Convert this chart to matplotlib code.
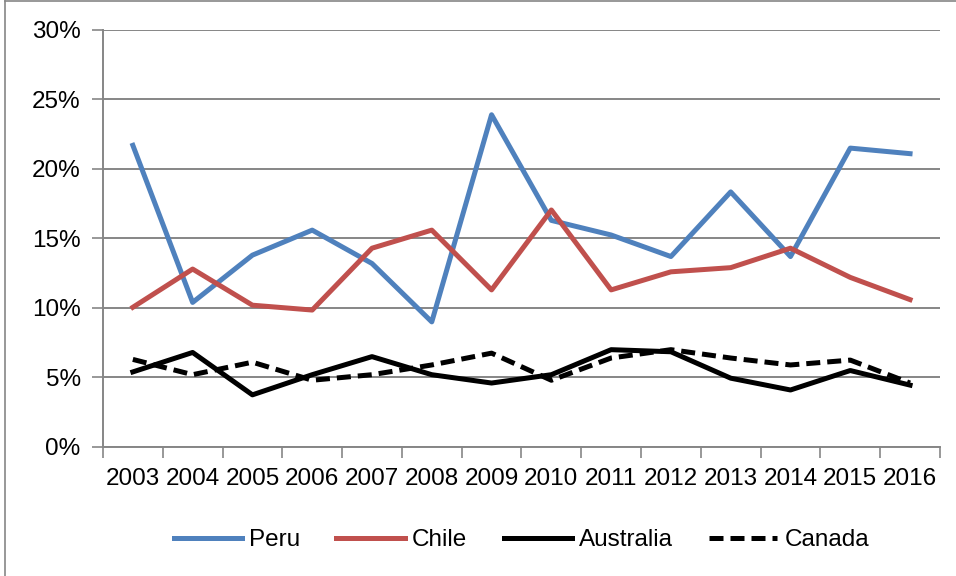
import matplotlib.pyplot as plt
from matplotlib.lines import Line2D
from matplotlib.ticker import FixedLocator, NullFormatter, FixedFormatter

plt.rcParams['font.family'] = ['Liberation Sans', 'DejaVu Sans']

years = [2003, 2004, 2005, 2006, 2007, 2008, 2009, 2010, 2011, 2012, 2013, 2014, 2015, 2016]
peru = [21.7, 10.4, 13.8, 15.6, 13.2, 9.0, 23.9, 16.3, 15.25, 13.7, 18.35, 13.7, 21.5, 21.1]
chile = [10.05, 12.8, 10.2, 9.85, 14.3, 15.6, 11.3, 17.05, 11.3, 12.6, 12.9, 14.3, 12.2, 10.6]
australia = [5.4, 6.8, 3.75, 5.2, 6.5, 5.2, 4.6, 5.2, 7.0, 6.85, 4.95, 4.1, 5.5, 4.45]
canada = [6.3, 5.2, 6.1, 4.8, 5.2, 5.9, 6.75, 4.8, 6.4, 7.0, 6.4, 5.9, 6.25, 4.6]
yticks = [0, 5, 10, 15, 20, 25, 30]

grey = '#868686'
fs = 17.5
lw = 3.6

fig = plt.figure(figsize=(9.56, 5.76), dpi=100)
ax = fig.add_axes([0.1077, 0.224, 0.8755, 0.724])

x = list(range(len(years)))
ax.plot(x, peru, color='#4f81bd', lw=lw, label='Peru')
ax.plot(x, chile, color='#c0504d', lw=lw, label='Chile')
ax.plot(x, australia, color='black', lw=lw, label='Australia')
ax.plot(x, canada, color='black', lw=lw, ls=(0, (2.8, 1.4)), label='Canada')

ax.set_xlim(-0.5, len(years) - 0.5)
ax.set_ylim(0, 30)
ax.set_yticks(yticks)
ax.set_yticklabels([f'{v}%' for v in yticks], fontsize=fs)
ax.yaxis.grid(True, color=grey, lw=1.4)
ax.set_axisbelow(True)

# boundary ticks between years, labels centred on each year
ax.xaxis.set_major_locator(FixedLocator([i - 0.5 for i in range(len(years) + 1)]))
ax.xaxis.set_major_formatter(NullFormatter())
ax.xaxis.set_minor_locator(FixedLocator(x))
ax.xaxis.set_minor_formatter(FixedFormatter([str(y) for y in years]))
ax.tick_params(axis='x', which='major', length=8, color=grey, width=1.2)
ax.tick_params(axis='x', which='minor', length=0, labelsize=fs, pad=15)
ax.tick_params(axis='y', length=8, color=grey, width=1.2, pad=8)

for s in ['top', 'right']:
    ax.spines[s].set_visible(False)
for s in ['left', 'bottom']:
    ax.spines[s].set_color(grey)
    ax.spines[s].set_linewidth(1.4)

ax.legend(loc='upper center', bbox_to_anchor=(0.5, -0.145), ncol=4, frameon=False,
          fontsize=fs, handlelength=2.8, columnspacing=1.5, handletextpad=0.3)

# outer chart frame
fig.add_artist(Line2D([5 / 956, 5 / 956], [0, 1 - 1 / 576], color=grey, lw=1.2))
fig.add_artist(Line2D([5 / 956, 1], [1 - 1 / 576, 1 - 1 / 576], color=grey, lw=1.2))

fig.savefig('out.png', dpi=100)
